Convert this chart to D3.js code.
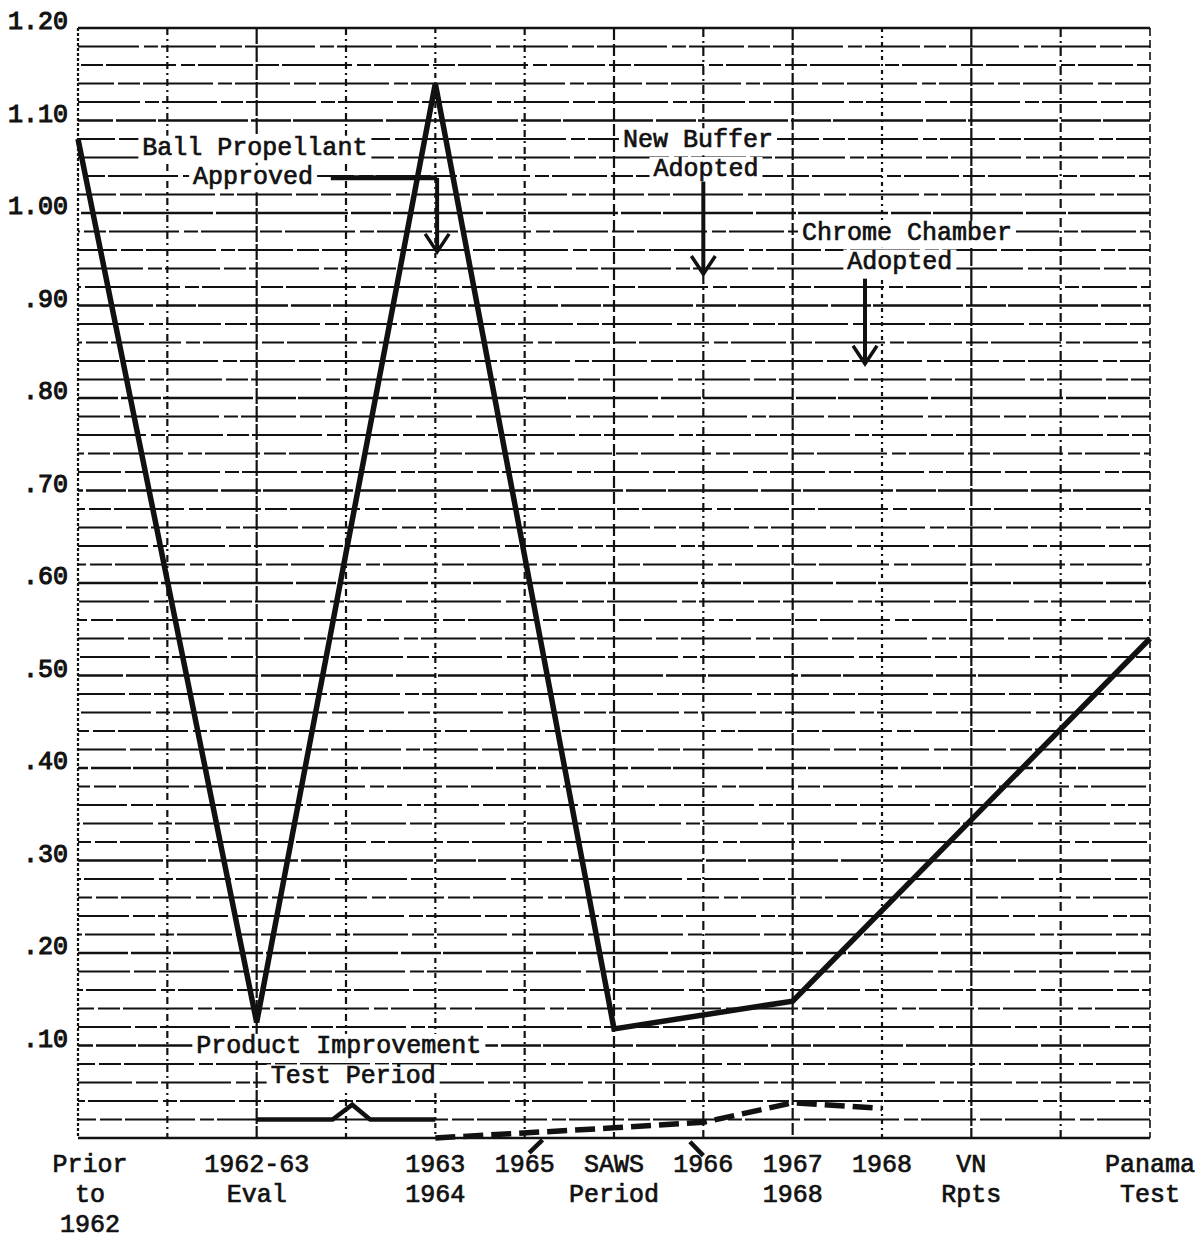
<!DOCTYPE html>
<html lang="en">
<head>
<meta charset="UTF-8">
<title>Chart</title>
<script src="https://cdn.jsdelivr.net/npm/d3@7"></script>
<style>
  body { margin: 0; background: #fff; }
  text { font-family: "Liberation Mono", "DejaVu Sans Mono", monospace; fill: #111; stroke: #111; stroke-width: 0.7px; }
</style>
</head>
<body>
<div id="grafica"></div>
<script>
// categories along the bottom (index = position on the x axis)
var catLabels = [
  ["Prior", "to", "1962"], [], ["1962-63", "Eval"], [], ["1963", "1964"], ["1965"],
  ["SAWS", "Period"], ["1966"], ["1967", "1968"], ["1968"], ["VN", "Rpts"], [], ["Panama", "Test"]
]
var yTicks = [1.20, 1.10, 1.00, .90, .80, .70, .60, .50, .40, .30, .20, .10]
var yTickLabels = ["1.20", "1.10", "1.00", ".90", ".80", ".70", ".60", ".50", ".40", ".30", ".20", ".10"]

// main series (solid heavy line)
var mainX = [0, 2, 4, 6, 8, 12]
var mainY = [1.08, 0.125, 1.14, 0.118, 0.148, 0.54]

// product improvement test period (solid line)
var piX = [2, 2.85, 3.07, 3.27, 4]
var piY = [0.02, 0.02, 0.036, 0.02, 0.02]

// later series (dashed line)
var dashX = [4, 6, 7, 8, 9]
var dashY = [0.0, 0.011, 0.017, 0.038, 0.032]

var ancho = 1198, alto = 1241
var svg = d3.select('#grafica').append('svg')
  .attr('width', ancho).attr('height', alto)

var x = d3.scaleLinear().domain([0, 12]).range([78, 1150])
var y = d3.scaleLinear().domain([0, 1.2]).range([1138, 28])

// horizontal grid, every .02
var grid = svg.append('g')
var hvals = d3.range(0, 61).map(function(i) { return i * 0.02 })
grid.selectAll('line.h').data(hvals).enter().append('line')
  .attr('class', 'h')
  .attr('x1', x(0)).attr('x2', x(12))
  .attr('y1', function(d) { return y(d) }).attr('y2', function(d) { return y(d) })
  .attr('stroke', '#111')
  .attr('stroke-width', function(d, i) { return i % 5 == 0 ? 2.4 : 2 })
  .attr('stroke-dasharray', function(d, i) {
    if (i == 0 || i == 60) return null
    return i % 5 == 0 ? '90,3,40,2' : '55,4,22,3,70,5,14,3'
  })
  .attr('stroke-dashoffset', function(d, i) { return (i * 37) % 110 })

// vertical grid, one per category slot
var vstyle = ['3,2', '7,4,2,4', '16,2', '7,4,2,4', '5,4,2,4', '7,4,2,4',
  '12,4', '9,4,2,4', '12,3', '4,4,2,4', '18,2', '9,4,2,4', '8,4']
grid.selectAll('line.v').data(d3.range(0, 13)).enter().append('line')
  .attr('class', 'v')
  .attr('x1', function(d) { return x(d) }).attr('x2', function(d) { return x(d) })
  .attr('y1', y(1.2)).attr('y2', y(0))
  .attr('stroke', '#111')
  .attr('stroke-width', function(d) { return d == 12 ? 1.6 : 2.2 })
  .attr('stroke-dasharray', function(d) { return vstyle[d] })

// y axis labels
svg.selectAll('text.ytick').data(yTicks).enter().append('text')
  .attr('class', 'ytick')
  .attr('x', 68)
  .attr('y', function(d) { return y(d) + 1 })
  .attr('text-anchor', 'end')
  .style('font-size', '25px')
  .style('stroke-width', '1.1px')
  .text(function(d, i) { return yTickLabels[i] })

// x axis labels
catLabels.forEach(function(lines, i) {
  lines.forEach(function(t, j) {
    svg.append('text')
      .attr('x', x(i) + (i == 0 ? 12 : 0))
      .attr('y', 1172 + j * 30)
      .attr('text-anchor', 'middle')
      .style('font-size', '25px')
      .text(t)
  })
})

var line = d3.line()
  .x(function(d) { return x(d[0]) })
  .y(function(d) { return y(d[1]) })

function pts(xs, ys) { return xs.map(function(v, i) { return [v, ys[i]] }) }

svg.append('path').datum(pts(dashX, dashY))
  .attr('d', line).attr('fill', 'none').attr('stroke', '#111')
  .attr('stroke-width', 5.5).attr('stroke-dasharray', '20,8')

svg.append('path').datum(pts(piX, piY))
  .attr('d', line).attr('fill', 'none').attr('stroke', '#111')
  .attr('stroke-width', 4.5).attr('stroke-linejoin', 'miter')

svg.append('path').datum(pts(mainX, mainY))
  .attr('d', line).attr('fill', 'none').attr('stroke', '#111')
  .attr('stroke-width', 5.5).attr('stroke-linejoin', 'miter')

// leader strokes from "1965" and "1966" labels up to the dashed line
var leaders = [[5.05, -0.016, 5.2, -0.002], [6.85, -0.004, 7.0, -0.019]]
svg.selectAll('line.leader').data(leaders).enter().append('line')
  .attr('x1', function(d) { return x(d[0]) }).attr('y1', function(d) { return y(d[1]) })
  .attr('x2', function(d) { return x(d[2]) }).attr('y2', function(d) { return y(d[3]) })
  .attr('stroke', '#111').attr('stroke-width', 4.5)

// annotation texts on white boxes that break the grid like the original
var notes = [
  ["Ball Propellant", 1.98, 1.063], ["Approved", 1.96, 1.031],
  ["New Buffer", 6.94, 1.071], ["Adopted", 7.03, 1.040],
  ["Chrome Chamber", 9.28, 0.971], ["Adopted", 9.2, 0.940],
  ["Product Improvement", 2.92, 0.092], ["Test Period", 3.08, 0.059]
]
var ng = svg.selectAll('g.note').data(notes).enter().append('g').attr('class', 'note')
var nt = ng.append('text')
  .attr('x', function(d) { return x(d[1]) })
  .attr('y', function(d) { return y(d[2]) })
  .attr('text-anchor', 'middle')
  .style('font-size', '25px')
  .text(function(d) { return d[0] })
ng.each(function() {
  var t = d3.select(this).select('text')
  var b = t.node().getBBox()
  d3.select(this).insert('rect', 'text')
    .attr('x', b.x - 4).attr('y', b.y + 2)
    .attr('width', b.width + 8).attr('height', b.height - 2)
    .attr('fill', '#fff')
})

// arrows: [x, yFrom, yTo]
var arrows = [[4.02, 1.038, 0.958], [7.0, 1.034, 0.934], [8.81, 0.929, 0.837]]
svg.append('line')
  .attr('x1', x(2.83)).attr('x2', x(4.02))
  .attr('y1', y(1.038)).attr('y2', y(1.038))
  .attr('stroke', '#111').attr('stroke-width', 5)
arrows.forEach(function(a) {
  svg.append('line')
    .attr('x1', x(a[0])).attr('x2', x(a[0]))
    .attr('y1', y(a[1])).attr('y2', y(a[2]))
    .attr('stroke', '#111').attr('stroke-width', 4)
  svg.append('path')
    .attr('d', 'M' + (x(a[0]) - 12) + ',' + (y(a[2]) - 18) + 'L' + x(a[0]) + ',' + y(a[2]) +
      'L' + (x(a[0]) + 12) + ',' + (y(a[2]) - 18))
    .attr('fill', 'none').attr('stroke', '#111').attr('stroke-width', 3.5)
})
</script>
</body>
</html>
